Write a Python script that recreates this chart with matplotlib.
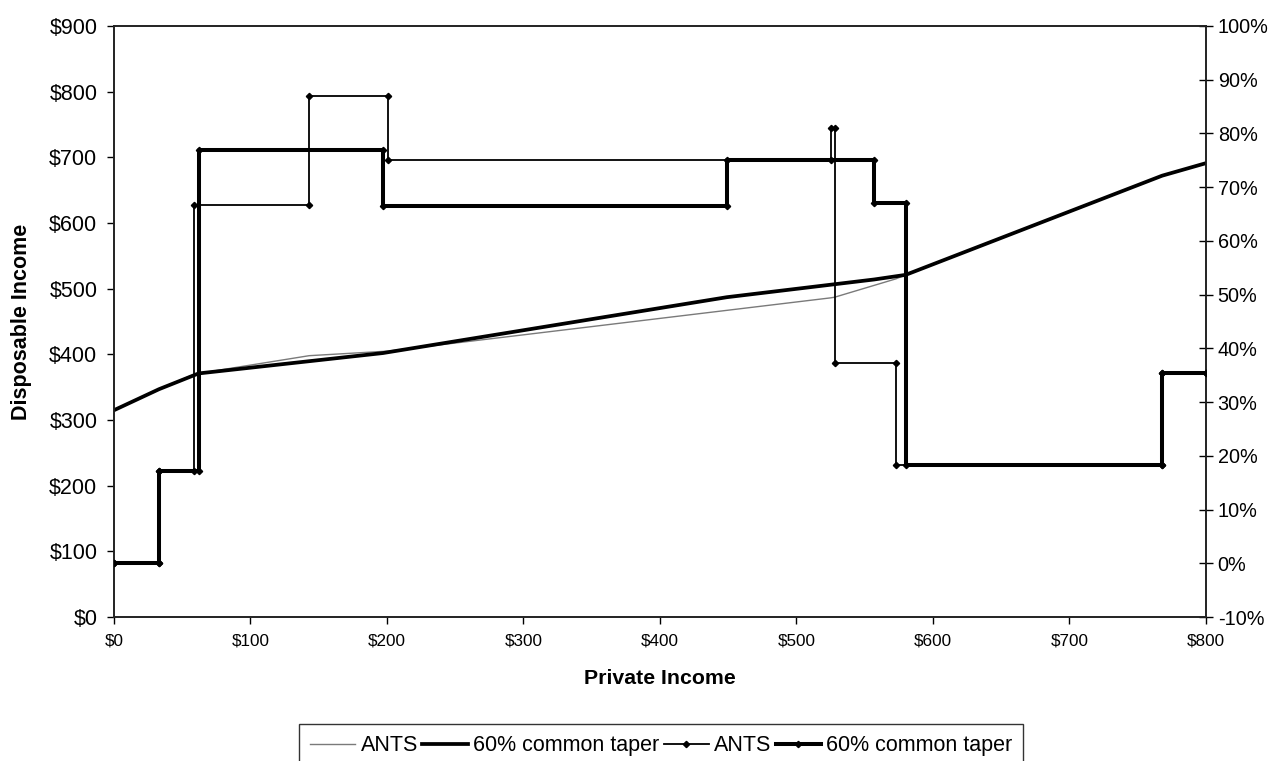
import numpy as np
import matplotlib
matplotlib.use("Agg")
from matplotlib import pyplot as plt
from matplotlib.ticker import FuncFormatter

plt.rcParams["font.family"] = ["Liberation Sans", "DejaVu Sans"]

# disposable income by private income (weekly, $)
ants_income = [0, 33, 59, 143, 201, 525, 528, 573, 580, 768, 800]
ants_disposable = [315, 347, 370, 398, 405, 486, 487, 515, 521, 672, 691]
taper_income = [0, 33, 62, 197, 449, 557, 580, 768, 800]
taper_disposable = [315, 347, 371, 402, 487, 514, 521, 672, 691]

# effective marginal tax rates (%), constant between breakpoints
ants_breaks = [0, 33, 59, 143, 201, 525, 528, 573, 768, 800]
ants_rates = [0, 17.2, 66.7, 87, 75, 81, 37.2, 18.3, 35.5]
taper_breaks = [0, 33, 62, 197, 449, 557, 580, 768, 800]
taper_rates = [0, 17.2, 77, 66.5, 75, 67, 18.3, 35.5]


def step_points(breaks, rates):
    # corner points of the step line so every corner gets a marker
    xs, ys = [], []
    for i, r in enumerate(rates):
        xs += [breaks[i], breaks[i + 1]]
        ys += [r, r]
    return np.array(xs), np.array(ys)


def main():
    fig = plt.figure(figsize=(12.72, 7.61), dpi=100)
    ax = fig.add_axes([0.0896, 0.189, 0.8584, 0.777])

    ax.plot(ants_income, ants_disposable, color="#7a7a7a", lw=1.0, label="ANTS", zorder=3)
    ax.plot(taper_income, taper_disposable, color="black", lw=2.7, label="60% common taper", zorder=3)

    ax.set_xlim(0, 800)
    ax.set_ylim(0, 900)
    ax.set_xticks(range(0, 801, 100))
    ax.set_yticks(range(0, 901, 100))
    ax.xaxis.set_major_formatter(FuncFormatter(lambda v, p: f"${v:.0f}"))
    ax.yaxis.set_major_formatter(FuncFormatter(lambda v, p: f"${v:.0f}"))
    ax.tick_params(axis="x", direction="out", length=5, width=1, labelsize=12.3, pad=7)
    ax.tick_params(axis="y", direction="out", length=5, width=1, labelsize=15.5, pad=7)
    ax.set_xlabel("Private Income", fontsize=15.3, fontweight="bold")
    ax.set_ylabel("Disposable Income", fontsize=15.5, fontweight="bold")
    ax.xaxis.set_label_coords(0.5, -0.088)
    ax.yaxis.set_label_coords(-0.075, 0.5)

    ax2 = ax.twinx()
    ax2.set_position(ax.get_position())
    ax_x, ax_y = step_points(ants_breaks, ants_rates)
    tx, ty = step_points(taper_breaks, taper_rates)
    ax2.plot(ax_x, ax_y, color="black", lw=1.3, marker="D", ms=3.2, label="ANTS", zorder=4)
    ax2.plot(tx, ty, color="black", lw=2.9, marker="D", ms=3.2, label="60% common taper", zorder=3)
    ax2.set_ylim(-10, 100)
    ax2.set_yticks(range(-10, 101, 10))
    ax2.yaxis.set_major_formatter(FuncFormatter(lambda v, p: f"{v:.0f}%"))
    ax2.tick_params(axis="y", direction="inout", length=10, width=1, labelsize=14.3, pad=3.5)

    for a in (ax, ax2):
        for s in a.spines.values():
            s.set_linewidth(1.2)
            s.set_color("#222222")

    h1, l1 = ax.get_legend_handles_labels()
    h2, l2 = ax2.get_legend_handles_labels()
    leg = fig.legend(h1 + h2, l1 + l2, loc="upper center", bbox_to_anchor=(0.52, 0.048),
                     ncol=4, fontsize=15.5, frameon=True, fancybox=False, handlelength=2.1,
                     handletextpad=0.25, columnspacing=0.2, borderpad=0.5, borderaxespad=0)
    leg.get_frame().set_edgecolor("black")
    leg.get_frame().set_linewidth(1.0)

    fig.savefig("out.png", dpi=100)


if __name__ == "__main__":
    main()
